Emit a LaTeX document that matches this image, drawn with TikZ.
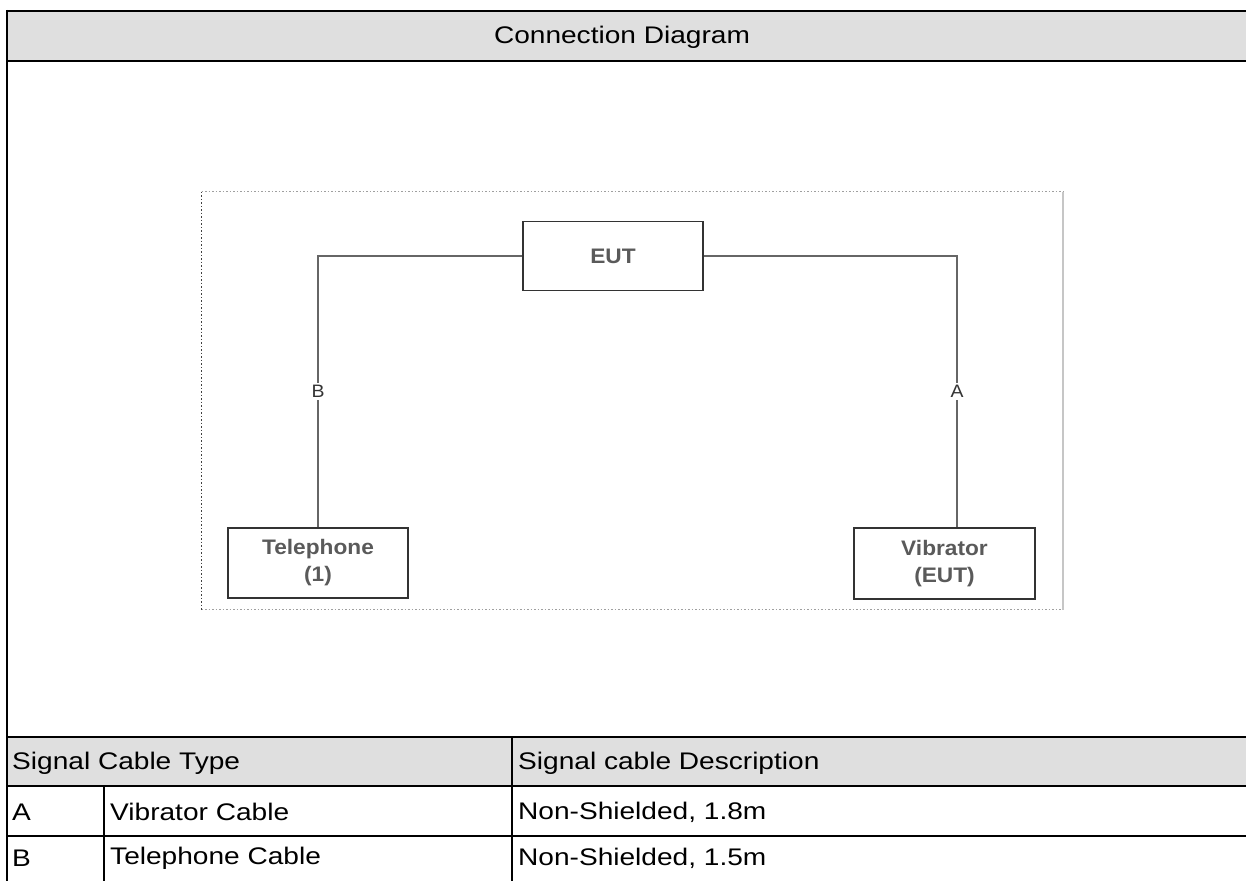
\documentclass[tikz,border=0pt]{standalone}
\usepackage{fontspec}
\setmainfont{Liberation Sans}[FakeStretch=1.17]
\newfontfamily\dfont{Liberation Sans}[FakeStretch=1.08]
\definecolor{hdrgray}{HTML}{DFDFDF}
\definecolor{txtgray}{HTML}{5A5A5A}
\definecolor{wiregray}{HTML}{666666}
\definecolor{boxline}{HTML}{333333}
\begin{document}
\begin{tikzpicture}[x=1pt,y=-1pt,
  hdr/.style={fill=hdrgray},
  tab/.style={line width=2pt,black},
  ttext/.style={anchor=west,inner sep=0pt,font=\fontsize{24}{28}\selectfont},
  dbox/.style={draw=boxline,line width=1.5pt,fill=white,align=center,text=txtgray,
    font=\dfont\fontsize{21}{27}\selectfont\bfseries,inner sep=0pt},
  wire/.style={draw=wiregray,line width=1.5pt},
  lbl/.style={fill=white,inner sep=2pt,text=boxline,font=\dfont\fontsize{18}{20}\selectfont}]
\useasboundingbox (0,0) rectangle (1246,880);
% header fills
\fill[hdr] (7,11) rectangle (1250,61);
\fill[hdr] (7,737) rectangle (1250,786);
% table lines
\draw[tab] (6,11) -- (1250,11);
\draw[tab] (7,61) -- (1250,61);
\draw[tab] (7,10) -- (7,885);
\draw[tab] (7,737) -- (1250,737);
\draw[tab] (7,786) -- (1250,786);
\draw[tab] (7,836) -- (1250,836);
\draw[tab] (104,786) -- (104,885);
\draw[tab] (512,737) -- (512,885);
% table texts
\node[inner sep=0pt,font=\fontsize{24}{28}\selectfont] (title) at (622,37) {Connection Diagram};
\node[ttext] (h1) at (12,763) {Signal Cable Type};
\node[ttext] (h2) at (518,763) {Signal cable Description};
\node[ttext] (ra) at (12,812) {A};
\node[ttext] (rad) at (110,812) {Vibrator Cable};
\node[ttext] (rade) at (518,812) {Non-Shielded, 1.8m};
\node[ttext] (rb) at (12,858) {B};
\node[ttext] (rbd) at (110,858) {Telephone Cable};
\node[ttext] (rbde) at (518,858) {Non-Shielded, 1.5m};
% dotted frame
\draw[draw=black!75,line width=1.5pt,dotted] (201.5,191.5) -- (201.5,609.5);
\draw[draw=gray!75,line width=1.5pt,dotted] (201.5,191.5) -- (1063,191.5);
\draw[draw=gray!75,line width=1.5pt,dotted] (201.5,609.5) -- (1063,609.5);
\draw[draw=gray!45,line width=1.5pt] (1063,191.5) -- (1063,609.5);
% boxes
\node[dbox,minimum width=180pt,minimum height=69pt] (eut) at (613,256) {EUT};
\node[dbox,minimum width=180pt,minimum height=70pt] (tel) at (318,563) {Telephone\\(1)};
\node[dbox,minimum width=181pt,minimum height=71pt] (vib) at (944.5,563.5) {Vibrator\\(EUT)};
% connectors
\draw[wire] (eut.west) -| node[lbl,pos=0.75] (lb) {B} (tel.north);
\draw[wire] (eut.east) -| node[lbl,pos=0.75] (la) {A} ([xshift=12.5pt]vib.north);
\end{tikzpicture}
\end{document}
